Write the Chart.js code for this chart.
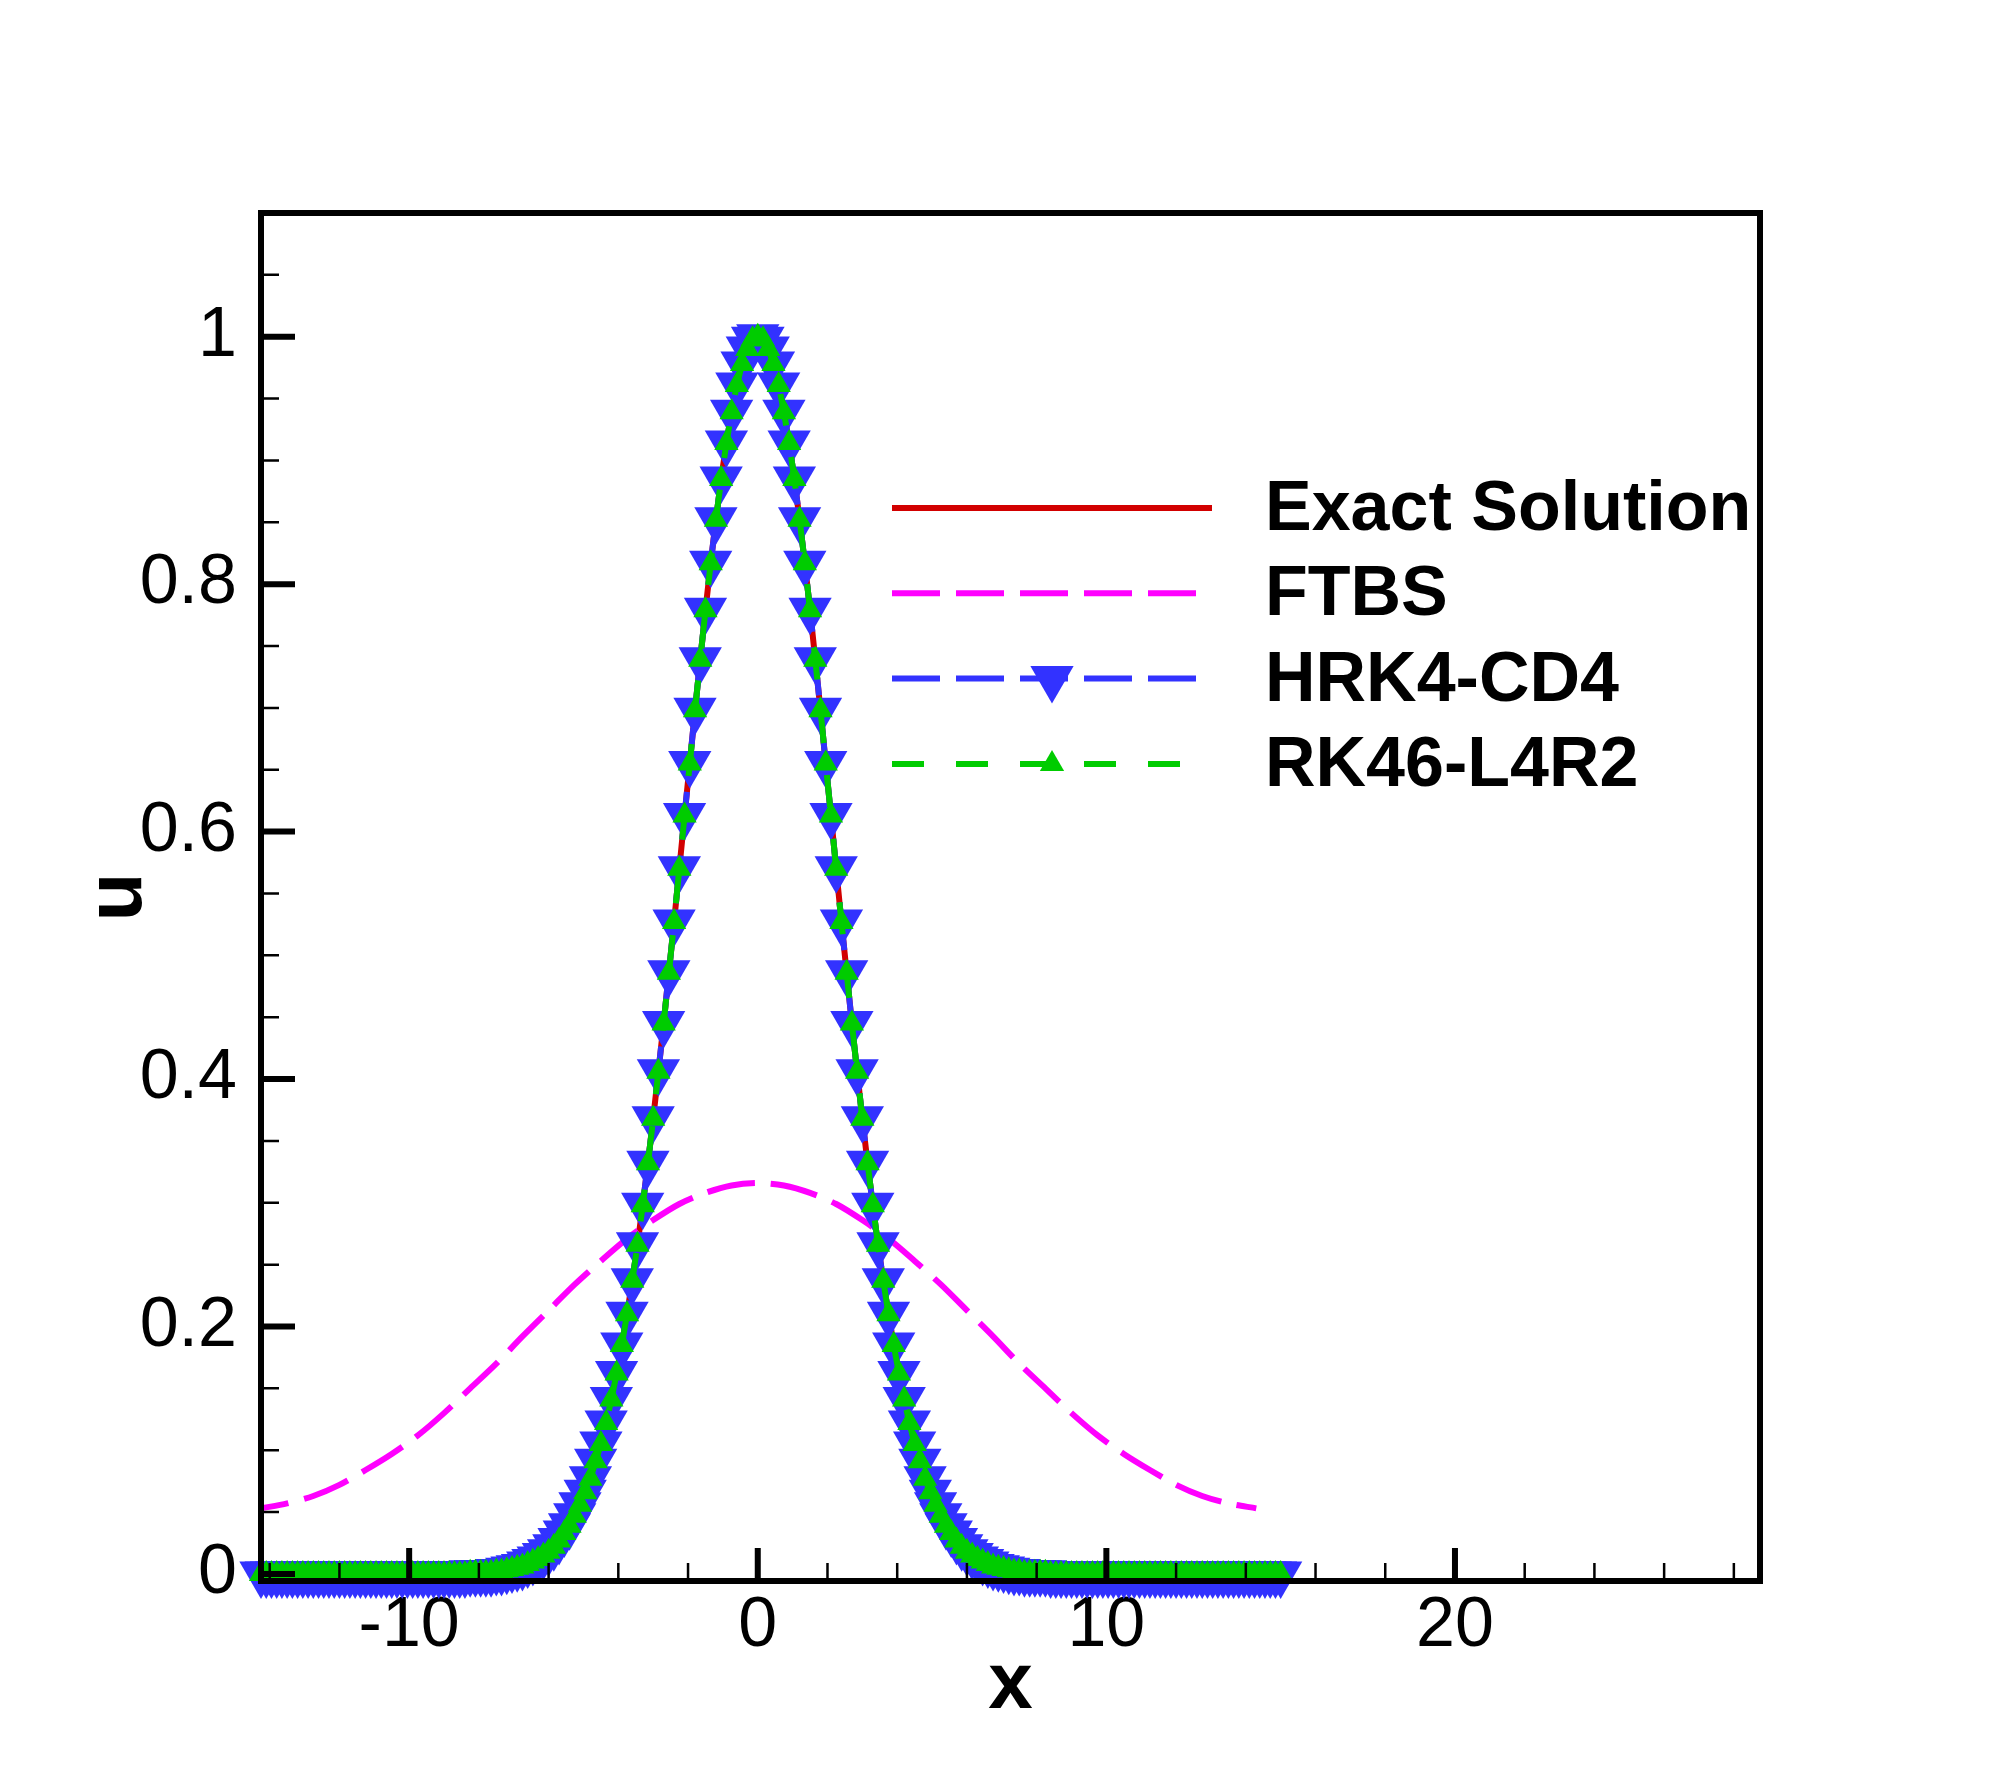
<!DOCTYPE html>
<html>
<head>
<meta charset="utf-8">
<script src="https://cdn.jsdelivr.net/npm/chart.js@4.4.1/dist/chart.umd.min.js"></script>
<style>
  html, body { margin: 0; padding: 0; background: #fff; }
  #wrap { width: 2000px; height: 1778px; }
</style>
</head>
<body>
<div id="wrap"><canvas id="plot"></canvas></div>
<script>
// grid nodes, x = -14.25 .. 15 (dx = 0.15)
const xGrid = [
  -14.25,-14.1,-13.95,-13.8,-13.65,-13.5,-13.35,-13.2,-13.05,-12.9,
  -12.75,-12.6,-12.45,-12.3,-12.15,-12,-11.85,-11.7,-11.55,-11.4,
  -11.25,-11.1,-10.95,-10.8,-10.65,-10.5,-10.35,-10.2,-10.05,-9.9,
  -9.75,-9.6,-9.45,-9.3,-9.15,-9,-8.85,-8.7,-8.55,-8.4,
  -8.25,-8.1,-7.95,-7.8,-7.65,-7.5,-7.35,-7.2,-7.05,-6.9,
  -6.75,-6.6,-6.45,-6.3,-6.15,-6,-5.85,-5.7,-5.55,-5.4,
  -5.25,-5.1,-4.95,-4.8,-4.65,-4.5,-4.35,-4.2,-4.05,-3.9,
  -3.75,-3.6,-3.45,-3.3,-3.15,-3,-2.85,-2.7,-2.55,-2.4,
  -2.25,-2.1,-1.95,-1.8,-1.65,-1.5,-1.35,-1.2,-1.05,-0.9,
  -0.75,-0.6,-0.45,-0.3,-0.15,0,
  0.15,0.3,0.45,0.6,0.75,0.9,1.05,1.2,1.35,1.5,
  1.65,1.8,1.95,2.1,2.25,2.4,2.55,2.7,2.85,3,
  3.15,3.3,3.45,3.6,3.75,3.9,4.05,4.2,4.35,4.5,
  4.65,4.8,4.95,5.1,5.25,5.4,5.55,5.7,5.85,6,
  6.15,6.3,6.45,6.6,6.75,6.9,7.05,7.2,7.35,7.5,
  7.65,7.8,7.95,8.1,8.25,8.4,8.55,8.7,8.85,9,
  9.15,9.3,9.45,9.6,9.75,9.9,10.05,10.2,10.35,10.5,
  10.65,10.8,10.95,11.1,11.25,11.4,11.55,11.7,11.85,12,
  12.15,12.3,12.45,12.6,12.75,12.9,13.05,13.2,13.35,13.5,
  13.65,13.8,13.95,14.1,14.25,14.4,14.55,14.7,14.85,15
];

// exact solution on the grid (both schemes sit on top of it at this scale)
const uExact = [
  0,0,0,0,0,0,0,0,0,0,
  0,0,0,0,0,0,0,0,0,0,
  0,0,0,0,0,0,0,0,0,0,
  0,0,0,0,0,0,0,0,0,0,
  0.001,0.001,0.001,0.001,0.001,0.002,0.002,0.003,0.004,0.005,
  0.006,0.008,0.010,0.012,0.015,0.018,0.022,0.027,0.033,0.039,
  0.047,0.056,0.066,0.077,0.091,0.105,0.122,0.141,0.162,0.185,
  0.210,0.237,0.266,0.298,0.332,0.368,0.406,0.445,0.486,0.527,
  0.570,0.613,0.655,0.698,0.739,0.779,0.817,0.852,0.885,0.914,
  0.939,0.961,0.978,0.990,0.998,1.000,
  0.998,0.990,0.978,0.961,0.939,0.914,0.885,0.852,0.817,0.779,
  0.739,0.698,0.655,0.613,0.570,0.527,0.486,0.445,0.406,0.368,
  0.332,0.298,0.266,0.237,0.210,0.185,0.162,0.141,0.122,0.105,
  0.091,0.077,0.066,0.056,0.047,0.039,0.033,0.027,0.022,0.018,
  0.015,0.012,0.010,0.008,0.006,0.005,0.004,0.003,0.002,0.002,
  0.001,0.001,0.001,0.001,0.001,0,0,0,0,0,
  0,0,0,0,0,0,0,0,0,0,
  0,0,0,0,0,0,0,0,0,0,
  0,0,0,0,0,0,0,0,0,0,
  0,0,0,0,0,0,0,0,0,0
];

// FTBS, strongly diffused
const xFtbs = [
  -14.25,-13.5,-12.75,-12,-11.25,-10.5,-9.75,-9,-8.25,-7.5,
  -6.75,-6,-5.25,-4.5,-3.75,-3,-2.25,-1.5,-0.75,0,
  0.75,1.5,2.25,3,3.75,4.5,5.25,6,6.75,7.5,
  8.25,9,9.75,10.5,11.25,12,12.75,13.5,14.3
];
const uFtbs = [
  0.053,0.057,0.063,0.072,0.084,0.097,0.112,0.130,0.150,0.170,
  0.192,0.213,0.234,0.253,0.271,0.286,0.299,0.308,0.314,0.316,
  0.314,0.308,0.299,0.286,0.271,0.253,0.234,0.213,0.192,0.170,
  0.150,0.130,0.112,0.097,0.084,0.072,0.063,0.057,0.053
];

const xTickLabels = [-10, 0, 10, 20];
const xMinorTicks = [-14,-12,-8,-6,-4,-2,2,4,6,8,12,14,16,18,22,24,26,28];
const yTickLabels = [0, 0.2, 0.4, 0.6, 0.8, 1];
const yMinorTicks = [0.05,0.1,0.15,0.25,0.3,0.35,0.45,0.5,0.55,0.65,0.7,0.75,0.85,0.9,0.95,1.05];

const seriesLabels = ['Exact Solution', 'FTBS', 'HRK4-CD4', 'RK46-L4R2'];
const seriesColors = ['#d20000', '#ff00ff', '#3232ff', '#00cc00'];

const FONT = "'Liberation Sans', Arial, Helvetica, sans-serif";

function toPoints(xs, ys){
  return xs.map((x, i) => ({x: x, y: ys[i]}));
}

// frame, inward ticks, axis titles and the legend box (Tecplot style)
const framePlugin = {
  id: 'framePlugin',
  afterDatasetsDraw(chart){
    const ctx = chart.ctx;
    const a = chart.chartArea;
    const xs = chart.scales.x, ys = chart.scales.y;
    ctx.save();
    ctx.strokeStyle = '#000';
    ctx.lineCap = 'butt';

    ctx.lineWidth = 2.5;
    ctx.beginPath();
    xMinorTicks.forEach(v => {
      const p = xs.getPixelForValue(v);
      ctx.moveTo(p, a.bottom); ctx.lineTo(p, a.bottom - 18);
    });
    yMinorTicks.forEach(v => {
      const p = ys.getPixelForValue(v);
      ctx.moveTo(a.left, p); ctx.lineTo(a.left + 18, p);
    });
    ctx.stroke();

    ctx.lineWidth = 6;
    ctx.beginPath();
    xTickLabels.forEach(v => {
      const p = xs.getPixelForValue(v);
      ctx.moveTo(p, a.bottom); ctx.lineTo(p, a.bottom - 33);
    });
    yTickLabels.forEach(v => {
      const p = ys.getPixelForValue(v);
      ctx.moveTo(a.left, p); ctx.lineTo(a.left + 34, p);
    });
    ctx.stroke();

    ctx.lineWidth = 6;
    ctx.strokeRect(a.left, a.top, a.right - a.left, a.bottom - a.top);

    // axis titles
    ctx.fillStyle = '#000';
    ctx.font = 'bold 80px ' + FONT;
    ctx.textAlign = 'center';
    ctx.textBaseline = 'alphabetic';
    ctx.fillText('x', (a.left + a.right) / 2, a.bottom + 127);
    ctx.save();
    ctx.translate(a.left - 120, (a.top + a.bottom) / 2);
    ctx.rotate(-Math.PI / 2);
    ctx.fillText('u', 0, 0);
    ctx.restore();

    // legend
    const lx = 892, lineLen = 320, textX = 1265, rowY = 508, rowGap = 85.3;
    chart.data.datasets.forEach((ds, i) => {
      const y = rowY + i * rowGap;
      ctx.save();
      ctx.strokeStyle = ds.borderColor;
      ctx.lineWidth = ds.borderWidth;
      ctx.setLineDash(ds.borderDash || []);
      ctx.beginPath();
      ctx.moveTo(lx, y); ctx.lineTo(lx + lineLen, y);
      ctx.stroke();
      ctx.setLineDash([]);
      if (ds.pointRadius > 0) {
        ctx.fillStyle = ds.pointBackgroundColor;
        Chart.helpers.drawPoint(ctx, {
          pointStyle: ds.pointStyle, rotation: ds.pointRotation || 0,
          radius: ds.pointRadius, borderWidth: 0
        }, lx + lineLen / 2, y);
      }
      ctx.restore();
      ctx.fillStyle = '#000';
      ctx.font = 'bold 70px ' + FONT;
      ctx.textAlign = 'left';
      ctx.textBaseline = 'alphabetic';
      ctx.fillText(ds.label, textX, y + 22);
    });
    ctx.restore();
  }
};

new Chart(document.getElementById('plot'), {
  type: 'scatter',
  data: {
    datasets: [
      {
        label: seriesLabels[0],
        data: toPoints(xGrid, uExact),
        showLine: true,
        borderColor: seriesColors[0],
        borderWidth: 6,
        pointRadius: 0,
        order: 3
      },
      {
        label: seriesLabels[1],
        data: toPoints(xFtbs, uFtbs),
        showLine: true,
        borderColor: seriesColors[1],
        borderWidth: 6,
        borderDash: [48, 16],
        borderDashOffset: 20,
        tension: 0.3,
        pointRadius: 0,
        order: 2
      },
      {
        label: seriesLabels[2],
        data: toPoints(xGrid, uExact),
        showLine: true,
        borderColor: seriesColors[2],
        borderWidth: 6,
        borderDash: [48, 16],
        pointStyle: 'triangle',
        pointRotation: 180,
        pointRadius: 25,
        pointBackgroundColor: seriesColors[2],
        pointBorderWidth: 0,
        clip: false,
        order: 1
      },
      {
        label: seriesLabels[3],
        data: toPoints(xGrid, uExact),
        showLine: true,
        borderColor: seriesColors[3],
        borderWidth: 6,
        borderDash: [32, 32],
        pointStyle: 'triangle',
        pointRadius: 14,
        pointBackgroundColor: seriesColors[3],
        pointBorderWidth: 0,
        clip: false,
        order: 0
      }
    ]
  },
  options: {
    responsive: true,
    maintainAspectRatio: false,
    devicePixelRatio: 1,
    animation: false,
    events: [],
    layout: { padding: { left: 0, top: 213, right: 240, bottom: 0 } },
    plugins: { legend: { display: false }, tooltip: { enabled: false } },
    scales: {
      x: {
        type: 'linear',
        position: 'bottom',
        min: -14.25,
        max: 28.75,
        afterBuildTicks: s => { s.ticks = xTickLabels.map(v => ({value: v})); },
        afterFit: s => { s.height = 197; },
        grid: { display: false, drawTicks: false },
        border: { display: false },
        ticks: {
          color: '#000',
          font: { family: FONT, size: 70 },
          padding: 4,
          maxRotation: 0,
          autoSkip: false,
          callback: v => String(v)
        }
      },
      y: {
        type: 'linear',
        position: 'left',
        min: -0.0057,
        max: 1.1,
        afterBuildTicks: s => { s.ticks = yTickLabels.map(v => ({value: v})); },
        afterFit: s => { s.width = 261; },
        grid: { display: false, drawTicks: false },
        border: { display: false },
        ticks: {
          color: '#000',
          font: { family: FONT, size: 70 },
          padding: 24,
          autoSkip: false,
          callback: v => String(v)
        }
      }
    }
  },
  plugins: [framePlugin]
});
</script>
</body>
</html>
